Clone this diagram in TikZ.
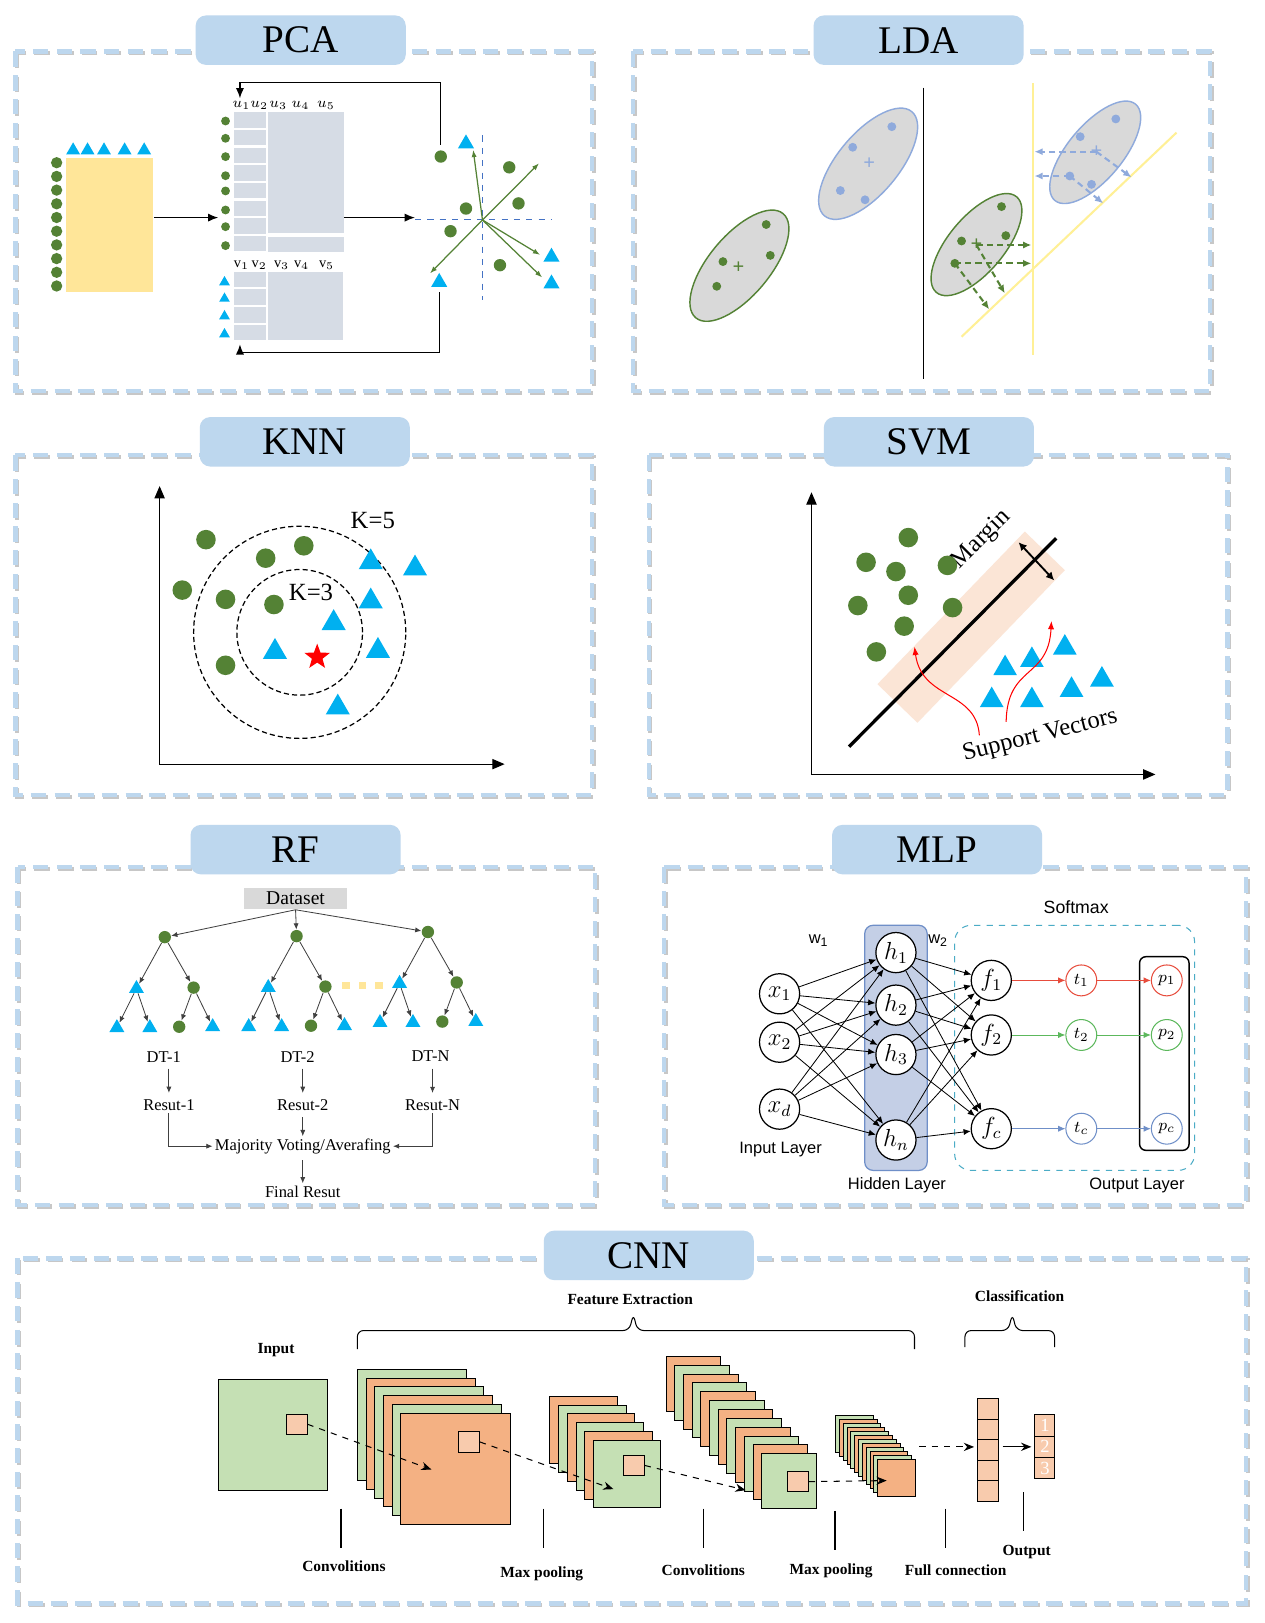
\documentclass[tikz,border=0pt]{standalone}
\usepackage{fontspec}
\setmainfont{Liberation Serif}
\newfontfamily\labelsans{Liberation Sans}
\usepackage{tikz}
\usetikzlibrary{positioning, arrows.meta, shapes.geometric}

\definecolor{headblue}{RGB}{189,215,238}
\definecolor{leaf}{RGB}{84,130,53}
\definecolor{sky}{RGB}{0,176,240}
\definecolor{lilac}{RGB}{143,170,220}
\definecolor{royal}{RGB}{68,114,196}
\definecolor{cloud}{RGB}{217,217,217}
\definecolor{slate}{RGB}{214,220,229}
\definecolor{sand}{RGB}{255,230,153}
\definecolor{lemon}{RGB}{255,240,150}
\definecolor{blush}{RGB}{251,229,214}
\definecolor{mint}{RGB}{197,224,180}
\definecolor{apricot}{RGB}{244,177,131}
\definecolor{skin}{RGB}{248,203,173}
\definecolor{hidfill}{RGB}{196,207,230}
\definecolor{hidline}{RGB}{111,143,200}
\definecolor{softteal}{RGB}{75,172,198}
\definecolor{outred}{RGB}{231,76,60}
\definecolor{outgreen}{RGB}{92,184,92}
\definecolor{outblue}{RGB}{111,143,200}

\begin{document}
\begin{tikzpicture}[x=0.5pt, y=-0.5pt]
	\tikzstyle{frame} = [draw=headblue, line width=2pt, dash pattern=on 7.5pt off 4pt];
	\tikzstyle{frameshade} = [draw=black!22, line width=2pt, dash pattern=on 7.5pt off 4pt];
	\tikzstyle{head} = [fill=headblue, rounded corners=5pt, minimum width=102pt, minimum height=24pt, inner sep=0pt, font={\fontsize{19}{22}\selectfont}];
	\tikzstyle{gdot} = [circle, fill=leaf, inner sep=0pt];
	\tikzstyle{btri} = [regular polygon, regular polygon sides=3, fill=sky, inner sep=0pt];
	\tikzstyle{blk} = [-{Latex[length=5pt, width=4pt]}, line width=0.7pt];
	\tikzstyle{cell} = [fill=slate];
	\tikzstyle{mlab} = [font={\fontsize{7}{8}\selectfont}, inner sep=0pt];
	\tikzstyle{gvec} = [-{Latex[length=3.5pt, width=2.5pt]}, draw=leaf, line width=0.6pt];
	\tikzstyle{axdash} = [draw=royal, dashed, line width=0.5pt];
	\tikzstyle{cluster} = [ellipse, fill=cloud, line width=0.7pt, rotate=50, inner sep=0pt];
	\tikzstyle{gpt} = [circle, fill=leaf, inner sep=0pt, minimum size=4.3pt];
	\tikzstyle{bpt} = [circle, fill=lilac, inner sep=0pt, minimum size=4.3pt];
	\tikzstyle{mean} = [inner sep=0pt, font={\fontsize{10}{10}\selectfont\bfseries}];
	\tikzstyle{proj} = [-{Latex[length=4pt, width=3.5pt]}, line width=1pt, dash pattern=on 3pt off 2pt];
	\tikzstyle{yline} = [draw=lemon, line width=1pt];
	\tikzstyle{axes2d} = [{Triangle[length=6pt, width=5pt]}-{Triangle[length=6pt, width=5pt]}, line width=0.6pt];
	\tikzstyle{ring} = [circle, draw, line width=0.6pt, dash pattern=on 2.5pt off 1.5pt, inner sep=0pt];
	\tikzstyle{klab} = [font={\fontsize{12}{14}\selectfont}, inner sep=0pt];
	\tikzstyle{sv} = [-{Latex[length=4pt, width=3pt]}, draw=red, line width=0.5pt];
	\tikzstyle{tarrow} = [-{Latex[length=3pt, width=2.5pt]}, draw=black!75, line width=0.4pt];
	\tikzstyle{rflab} = [font={\fontsize{8}{9}\selectfont}, inner sep=1pt];
	\tikzstyle{neuron} = [circle, draw, fill=white, line width=0.6pt, minimum size=19.5pt, inner sep=0pt, font={\fontsize{12}{12}\selectfont}];
	\tikzstyle{soft neuron} = [circle, draw, fill=white, line width=0.5pt, minimum size=15pt, inner sep=0pt, font={\fontsize{8}{8}\selectfont}];
	\tikzstyle{wire} = [-{Latex[length=3.5pt, width=3pt]}, line width=0.4pt];
	\tikzstyle{slab} = [font={\labelsans\fontsize{8}{9}\selectfont}];
	\tikzstyle{fmap} = [draw, line width=0.45pt];
	\tikzstyle{patch} = [draw, fill=skin, line width=0.45pt, minimum size=10pt, inner sep=0pt];
	\tikzstyle{flow} = [-{Stealth[length=5pt, width=4pt]}, dashed, line width=0.5pt];
	\tikzstyle{clab} = [font={\fontsize{7.5}{9}\selectfont\bfseries}];
	\tikzstyle{brace} = [line width=0.5pt, rounded corners=3pt];

	\path[use as bounding box, fill=white] (0,0) rectangle (1228,1576);

	\foreach \fx/\fy/\gx/\gy/\tx/\ty/\lab in {15/50/575/380/292/39/PCA, 615/50/1175/380/892/39/LDA, 15/442/575/772/296/429/KNN, 630/442/1192/772/902/429/SVM, 17/842/578/1170/287/825/RF, 645/842/1210/1170/910/825/MLP, 17/1222/1210/1557/630/1219/CNN} {
		\draw[frameshade] (\fx+1.5,\fy+1.5) rectangle (\gx+1.5,\gy+1.5);
		\draw[frame] (\fx,\fy) rectangle (\gx,\gy);
		\node[head] (head\lab) at (\tx,\ty) {\lab};
	}

	% PCA
	\node[fill=sand, minimum width=42.5pt, minimum height=65.5pt, inner sep=0pt] (data) at (106.5,218.5) {};
	\foreach \i in {0,...,9}
		\node[gdot, minimum size=5.5pt] (row\i) at (55,158+\i*13.3) {};
	\foreach \x [count=\i] in {71,85,101,121,140}
		\node[btri, minimum size=7.8pt] (col\i) at (\x,146) {};
	\foreach \r in {0,...,7} {
		\fill[cell] (227.5,109+\r*17.15) rectangle (242.3,123.9+\r*17.15);
		\fill[cell] (243.2,109+\r*17.15) rectangle (258,123.9+\r*17.15);
	}
	\fill[cell] (260.5,109) rectangle (334,226.5);
	\fill[cell] (260.5,229.8) rectangle (334,244.4);
	\foreach \r in {0,...,3} {
		\fill[cell] (227.5,263.8+\r*17.15) rectangle (242.3,279+\r*17.15);
		\fill[cell] (243.2,263.8+\r*17.15) rectangle (258,279+\r*17.15);
	}
	\fill[cell] (260.5,263.8) rectangle (333,330);
	\foreach \x [count=\i] in {234.6,251.8,270.2,291.9,316.5}
		\node[mlab] (u\i) at (\x,102.6) {$u_{\i}$};
	\foreach \x [count=\i] in {234.6,251.8,273.5,292.9,317.2}
		\node[mlab] (v\i) at (\x,257.3) {$\mathrm{v}_{\i}$};
	\foreach \y [count=\i] in {117.5,134.3,152.1,170.6,185.4,203.9,220.1,238.5}
		\node[gdot, minimum size=4.3pt] (ud\i) at (219,\y) {};
	\foreach \y [count=\i] in {274,290,307,324.5}
		\node[btri, minimum size=6pt] (vt\i) at (218,\y) {};
	\coordinate (uin) at (212,211.3);
	\coordinate (uout) at (334,211.3);
	\coordinate (sin) at (403,211.3);
	\draw[blk] (data.east |- uin) -- (uin);
	\draw[blk] (uout) -- (sin);

	\coordinate (o) at (468.5,213.6);
	\draw[axdash] (403,213.6) -- (535.5,213.6);
	\draw[axdash] (468.5,131.5) -- (468.5,291.5);
	\foreach \x/\y in {459.5/145.5, 523.5/158.5, 417.5/265.5, 524.5/247.5, 526.5/269.5}
		\draw[gvec] (o) -- (\x,\y);
	\foreach \x/\y [count=\i] in {428/152, 494.5/162.5, 503.5/197.5, 452.5/202.5, 437.5/224.5, 485.5/257.5}
		\node[gdot, minimum size=6pt] (sd\i) at (\x,\y) {};
	\foreach \x/\y [count=\i] in {452.5/139.5, 535.5/249.5, 535.5/275.5, 426.5/274}
		\node[btri, minimum size=9pt] (st\i) at (\x,\y) {};
	\coordinate (ftop) at (233,95.5);
	\coordinate (fbot) at (233,334.3);
	\draw[blk] ([yshift=2.5pt]sd1.north) -- ++(0,-60.5) -| (ftop);
	\draw[blk] ([yshift=-2.5pt]st4.south) -- ++(0,58.5) -| (fbot);

	% LDA
	\coordinate (sep1) at (897,85);
	\coordinate (sep2) at (897,368);
	\draw[line width=0.6pt] (sep1) -- (sep2);
	\draw[yline] (1003,81) -- (1003,345);
	\draw[yline] (933.7,327) -- (1142.4,128.8);
	\node[cluster, draw=leaf, minimum width=66pt, minimum height=29.5pt] (gl) at (718,258) {};
	\node[cluster, draw=lilac, minimum width=66pt, minimum height=29.5pt] (bl) at (843,159) {};
	\node[cluster, draw=leaf, minimum width=60.6pt, minimum height=27pt] (gr) at (948.2,237.5) {};
	\node[cluster, draw=lilac, minimum width=61pt, minimum height=26.5pt] (br) at (1063.5,147.9) {};
	\foreach \x/\y [count=\i] in {744/218, 748/248, 702/254, 696/278}
		\node[gpt] (gl\i) at (\x,\y) {};
	\foreach \x/\y [count=\i] in {866/123, 828/143, 816/185, 840/194}
		\node[bpt] (bl\i) at (\x,\y) {};
	\foreach \x/\y [count=\i] in {972.5/200.6, 976.7/228.8, 933.7/234, 927.2/255.7}
		\node[gpt] (gr\i) at (\x,\y) {};
	\foreach \x/\y [count=\i] in {1083.5/115.5, 1048.9/132.7, 1038.8/170.9, 1059.9/179}
		\node[bpt] (br\i) at (\x,\y) {};
	\node[mean, text=leaf] (glm) at (717,260) {+};
	\node[mean, text=lilac] (blm) at (844,159) {+};
	\node[mean, text=leaf] (grm) at (948.2,237.9) {+};
	\node[mean, text=lilac] (brm) at (1064.7,147.3) {+};
	\coordinate (gy1) at (1001.5,237.9);
	\coordinate (gy2) at (1001.5,255.7);
	\coordinate (gd1) at (975.7,284.8);
	\coordinate (gd2) at (960.5,300.3);
	\coordinate (by1) at (1004.5,147.3);
	\coordinate (by2) at (1004.5,170.9);
	\coordinate (bd1) at (1098.7,172.2);
	\coordinate (bd2) at (1071.2,197.4);
	\draw[proj, leaf] (grm.center) -- (gy1);
	\draw[proj, leaf] (gr4.center) -- (gy2);
	\draw[proj, leaf] (grm.center) -- (gd1);
	\draw[proj, leaf] (gr4.center) -- (gd2);
	\draw[proj, lilac] (brm.center) -- (by1);
	\draw[proj, lilac] (br3.center) -- (by2);
	\draw[proj, lilac] (brm.center) -- (bd1);
	\draw[proj, lilac] (br3.center) -- (bd2);

	% KNN
	\coordinate (kx) at (490,742);
	\coordinate (ky) at (155,472);
	\draw[axes2d] (ky) |- (kx);
	\node[ring, minimum size=103pt] (k5) at (291,614) {};
	\node[ring, minimum size=61pt] (k3) at (291,614) {};
	\node[klab] (k5lab) at (362,505) {K=5};
	\node[klab] (k3lab) at (302,575) {K=3};
	\foreach \x/\y [count=\i] in {200/524, 258/542, 295/530, 177/573, 219/582, 266/587, 219/646}
		\node[gdot, minimum size=9.5pt] (kd\i) at (\x,\y) {};
	\foreach \x/\y [count=\i] in {360/546, 403/552, 360/584, 324/605, 267/633, 367/632, 328/687}
		\node[btri, minimum size=13.5pt] (kt\i) at (\x,\y) {};
	\node[star, star points=5, star point ratio=2.4, fill=red, inner sep=0pt, minimum size=13pt] (query) at (308,638) {};

	% SVM
	\coordinate (sx) at (1122,752);
	\coordinate (sy) at (788,478);
	\draw[axes2d] (sy) |- (sx);
	\begin{scope}[shift={(3,5)}]
		\node[fill=blush, rotate=46, minimum width=103pt, minimum height=27pt, inner sep=0pt] (band) at (940,604) {};
		\coordinate (hb) at (821.5,720);
		\coordinate (he) at (1022.6,517.7);
		\draw[line width=1.6pt] (hb) -- (he);
		\coordinate (ma) at (986,521.5);
		\coordinate (mb) at (1020.7,558.6);
		\draw[{Latex[length=4pt, width=4pt]}-{Latex[length=4pt, width=4pt]}, line width=0.9pt] (ma) -- (mb);
		\node[klab, rotate=45] (margin) at (950,519) {Margin};
		\foreach \x/\y [count=\i] in {879/517, 838/541, 867/550, 917/544, 879/573, 830/583, 922/585, 875/603, 848/628}
			\node[gdot, minimum size=9.5pt] (vd\i) at (\x,\y) {};
	\end{scope}
	\node[klab, rotate=14] (support) at (1010,715) {Support Vectors};
	\foreach \x/\y [count=\i] in {976/649, 1002/641, 1034/629, 963/680, 1002/680, 1040.5/670, 1070/660}
		\node[btri, minimum size=13.3pt] (vt\i) at (\x,\y) {};
	\coordinate (sa) at (951,714);
	\coordinate (sb) at (977,701);
	\coordinate (sv1) at (888,628);
	\coordinate (sv2) at (1021,603);
	\draw[sv] (sa) .. controls (948,670) and (895,680) .. (sv1);
	\draw[sv] (sb) .. controls (978,645) and (1018,660) .. (sv2);

	% RF
	\node[fill=cloud, minimum width=50pt, minimum height=10.5pt, inner sep=0pt, font={\fontsize{9.5}{10}\selectfont}] (dataset) at (287,872.5) {Dataset};
	\foreach \t/\rx/\ry in {1/160/910, 2/288/909, 3/415.5/905} {
		\node[gdot, minimum size=6pt] (root\t) at (\rx,\ry) {};
		\node[btri, minimum size=8.4pt] (l\t) at (\rx-27.5,\ry+50) {};
		\node[gdot, minimum size=6pt] (r\t) at (\rx+28,\ry+49) {};
		\node[btri, minimum size=8.4pt] (ll\t) at (\rx-46.5,\ry+88) {};
		\node[btri, minimum size=8.4pt] (lr\t) at (\rx-14.5,\ry+88) {};
		\node[gdot, minimum size=6pt] (rl\t) at (\rx+14,\ry+87) {};
		\node[btri, minimum size=8.4pt] (rr\t) at (\rx+46.5,\ry+87) {};
		\draw[tarrow] (dataset.south) -- (root\t);
		\draw[tarrow] (root\t) -- (l\t);
		\draw[tarrow] (root\t) -- (r\t);
		\draw[tarrow] (l\t) -- (ll\t);
		\draw[tarrow] (l\t) -- (lr\t);
		\draw[tarrow] (r\t) -- (rl\t);
		\draw[tarrow] (r\t) -- (rr\t);
	}
	\foreach \x in {336,352,368}
		\node[fill=sand, minimum size=3.6pt, inner sep=0pt] at (\x,957) {};
	\foreach \n/\x/\rx in {1/159/164, 2/289/294, N/418/420} {
		\node[rflab] (dt\n) at (\x,1026) {DT-\n};
		\node[rflab] (res\n) at (\rx,1073) {Resut-\n};
		\draw[tarrow, shorten <=2pt, shorten >=2pt] (dt\n.south -| res\n.north) -- (res\n.north);
	}
	\node[rflab] (vote) at (294,1113) {Majority Voting/Averafing};
	\node[rflab] (final) at (294,1157) {Final Resut};
	\draw[tarrow] (res1.south) |- (vote.west);
	\draw[tarrow] (resN.south) |- (vote.east);
	\draw[tarrow, shorten <=2pt] (res2) -- (vote);
	\draw[tarrow, shorten <=2pt] (vote) -- (final);

	% MLP
	\node[draw=hidline, fill=hidfill, rounded corners=4pt, line width=0.6pt, minimum width=30.3pt, minimum height=119pt] (hid) at (870,1017.5) {};
	\node[draw=softteal, dashed, rounded corners=8pt, line width=0.5pt, minimum width=116.5pt, minimum height=119pt] (soft) at (1043.5,1017.5) {};
	\node[draw, rounded corners=3pt, line width=0.7pt, minimum width=24pt, minimum height=94pt] (obox) at (1130.6,1023) {};
	\foreach \n/\y in {1/965, 2/1012, d/1077}
		\node[neuron] (x\n) at (757,\y) {$x_{\n}$};
	\foreach \n/\y in {1/925, 2/976, 3/1024, n/1107}
		\node[neuron] (h\n) at (870,\y) {$h_{\n}$};
	\foreach \n/\y in {1/952, 2/1005, c/1096}
		\node[neuron] (f\n) at (962.6,\y) {$f_{\n}$};
	\foreach \n/\y/\c in {1/952/outred, 2/1005/outgreen, c/1096/outblue} {
		\node[soft neuron, draw=\c] (t\n) at (1050,\y) {$t_{\n}$};
		\node[soft neuron, draw=\c] (p\n) at (1133,\y) {$p_{\n}$};
		\draw[wire, draw=\c] (f\n) -- (t\n);
		\draw[wire, draw=\c] (t\n) -- (p\n);
	}
	\foreach \a in {1,2,d}
		\foreach \b in {1,2,3,n}
			\draw[wire] (x\a) -- (h\b);
	\foreach \a in {1,2,3,n}
		\foreach \b in {1,2,c}
			\draw[wire] (h\a) -- (f\b);
	\node[slab] (w1) at (795,913) {w\textsubscript{1}};
	\node[slab] (w2) at (911,913) {w\textsubscript{2}};
	\node[slab, font={\labelsans\fontsize{8.6}{10}\selectfont}] (softlab) at (1045,881) {Softmax};
	\node[slab] (inlab) at (758,1116) {Input Layer};
	\node[slab] (hidlab) at (871,1151) {Hidden Layer};
	\node[slab] (outlab) at (1104,1151) {Output Layer};

	% CNN
	\node[clab] (input) at (268,1311) {Input};
	\node[fill=mint, draw, line width=0.45pt, minimum width=53pt, minimum height=53.75pt, inner sep=0pt] (img) at (265,1393.7) {};
	\foreach \i in {0,...,5} {
		\ifodd\i \def\c{apricot}\else\def\c{mint}\fi
		\draw[fmap, fill=\c] (347+\i*8.45,1329.5+\i*8.6) rectangle ++(106,108);
	}
	\foreach \i in {0,...,5} {
		\ifodd\i \def\c{mint}\else\def\c{apricot}\fi
		\draw[fmap, fill=\c] (534+\i*8.45,1355.7+\i*8.6) rectangle ++(65.5,65.5);
	}
	\foreach \i in {0,...,11} {
		\ifodd\i \def\c{mint}\else\def\c{apricot}\fi
		\draw[fmap, fill=\c] (646.7+\i*8.45,1317+\i*8.6) rectangle ++(53,53.5);
	}
	\foreach \i in {0,...,11} {
		\ifodd\i \def\c{apricot}\else\def\c{mint}\fi
		\draw[fmap, fill=\c] (811.5+\i*3.7,1374+\i*3.9) rectangle ++(36.5,36);
	}
	\node[patch] (pa) at (288.2,1383) {};
	\node[patch] (pb) at (455.6,1400.2) {};
	\node[patch] (pc) at (615.7,1423) {};
	\node[patch] (pd) at (775,1438.7) {};
	\foreach \i in {0,...,4}
		\node[draw, fill=skin, line width=0.5pt, minimum width=9.9pt, minimum height=10pt, inner sep=0pt] (fc\i) at (959.3,1368+\i*20) {};
	\foreach \i [count=\j] in {0,1,2}
		\node[draw, fill=skin, line width=0.5pt, minimum width=9.7pt, minimum height=10.35pt, inner sep=0pt, text=white, font={\fontsize{9}{9}\selectfont}] (out\j) at (1014.7,1384.2+\i*20.7) {\j};
	\coordinate (ea) at (419,1427);
	\coordinate (eb) at (595.7,1446);
	\coordinate (ec) at (724,1447);
	\coordinate (ed) at (861,1437.7);
	\coordinate (ee) at (892.7,1405);
	\draw[flow] (pa.east) -- (ea);
	\draw[flow] (pb.east) -- (eb);
	\draw[flow] (pc.east) -- (ec);
	\draw[flow] (pd.east) -- (ed);
	\draw[flow, shorten >=1.5pt] (ee) -- (ee -| fc2.west);
	\draw[-{Stealth[length=5pt, width=4pt]}, line width=0.6pt, shorten <=2pt, shorten >=1.5pt] (fc2.east |- out2) -- (out2.west);
	\foreach \x/\ya/\yb/\lx/\ly/\txt [count=\i] in {331/1465/1503/334/1521/Convolitions, 528/1465/1503/526/1528.5/Max pooling, 683/1465/1503/683/1525/Convolitions, 811/1467/1505/807/1525/Max pooling, 918/1465/1503/928/1525/Full connection, 994/1449/1487/997/1507.5/Output} {
		\draw[line width=0.7pt] (\x,\ya) -- (\x,\yb);
		\node[clab] (step\i) at (\lx,\ly) {\txt};
	}
	\draw[brace] (347,1310) -- (347,1292) -- (611,1292) -- (615,1276) -- (619,1292) -- (888,1292) -- (888,1310);
	\node[clab] (feat) at (612,1262) {Feature Extraction};
	\draw[brace] (937,1308) -- (937,1292) -- (979,1292) -- (983,1276) -- (987,1292) -- (1024,1292) -- (1024,1308);
	\node[clab] (cls) at (990,1259) {Classification};
\end{tikzpicture}
\end{document}
